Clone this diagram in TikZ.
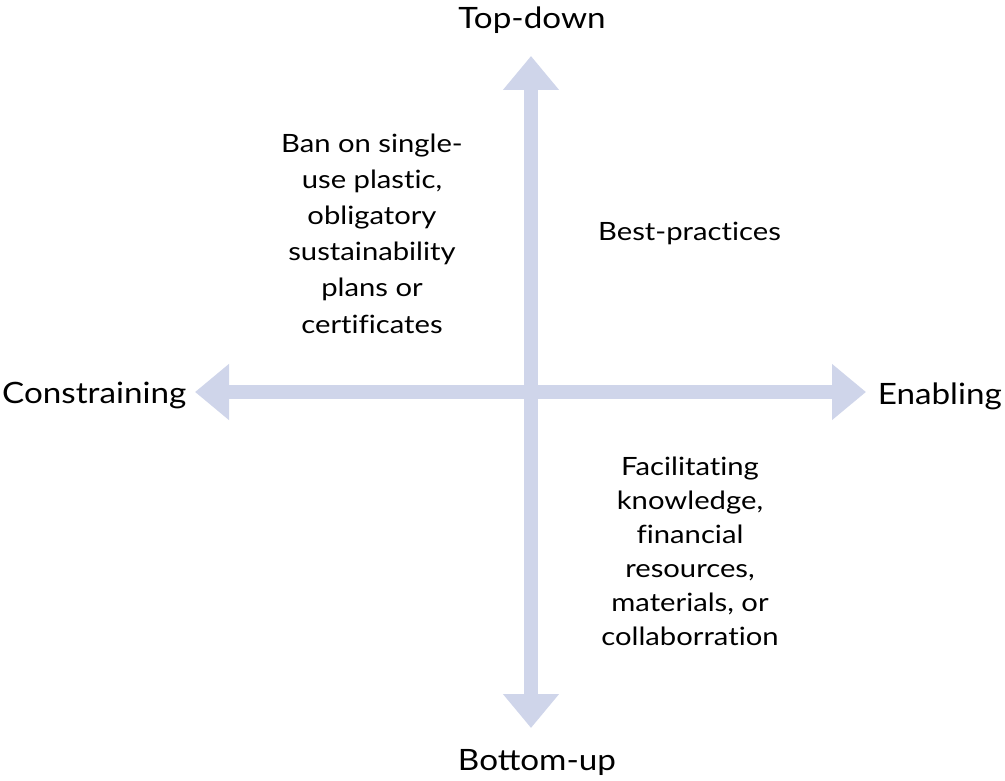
\documentclass[tikz,border=0pt]{standalone}
\usepackage{fontspec}
\setmainfont{Lato}
\newfontfamily\axisfont[FakeStretch=1.13]{Lato}
\newfontfamily\blockfont[FakeStretch=1.16,Ligatures=NoCommon]{Lato}
\usetikzlibrary{arrows.meta}
\definecolor{axiscol}{HTML}{CFD5EA}
\tikzset{
  axisarrow/.style={draw=axiscol, line width=14pt,
    {Triangle[width=54pt,length=34pt]}-{Triangle[width=54pt,length=34pt]}},
  axislabel/.style={font=\axisfont\fontsize{29.4}{34}\selectfont, inner sep=0pt, text=black},
  blocktext/.style={align=center, inner sep=0pt, text=black}
}
\begin{document}
\begin{tikzpicture}[x=1pt,y=-1pt]
\useasboundingbox (0,0) rectangle (1005,781);
\coordinate (top) at (531,56);
\coordinate (bottom) at (531,728);
\coordinate (left) at (195,392);
\coordinate (right) at (866,392);
\draw[axisarrow] (left) -- (right);
\draw[axisarrow] (bottom) -- (top);
\node[axislabel, anchor=base] (td) at (532,28.5) {Top-down};
\node[axislabel, anchor=base] (bu) at (537,770) {Bottom-up};
\node[axislabel, anchor=base west] (con) at (2,403) {Constraining};
\node[axislabel, anchor=base east] (ena) at (1002,404) {Enabling};
\node[blocktext, font=\blockfont\fontsize{25.2}{36.2}\selectfont, anchor=base] (ban) at (372,333) {Ban on single-\\use plastic,\\obligatory\\sustainability\\plans or\\certificates};
\node[blocktext, font=\blockfont\fontsize{25.2}{34}\selectfont, anchor=base] (best) at (689.5,240.7) {Best-practices};
\node[blocktext, font=\blockfont\fontsize{25.2}{34}\selectfont, anchor=base] (fac) at (690,645) {Facilitating\\knowledge,\\financial\\resources,\\materials, or\\collaborration};
\end{tikzpicture}
\end{document}
